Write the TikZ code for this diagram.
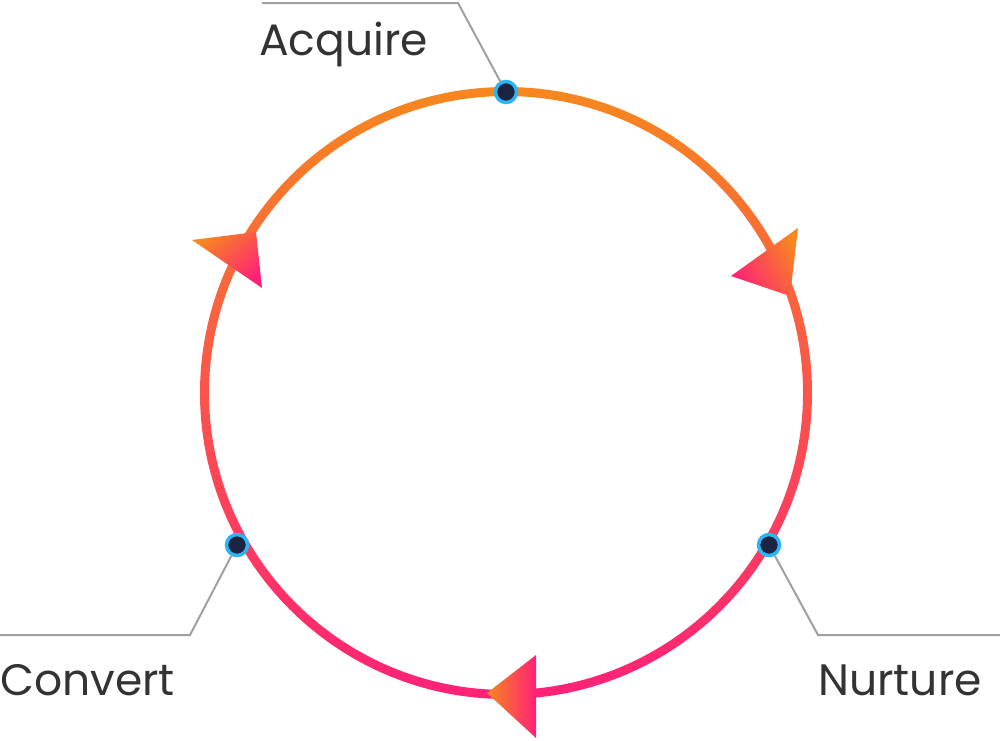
\documentclass[tikz,border=0pt]{standalone}
\usepackage{fontspec}
\setmainfont{Poppins}
\definecolor{ringtop}{HTML}{F7871E}
\definecolor{ringbot}{HTML}{FF2178}
\definecolor{dotfill}{HTML}{1C2441}
\definecolor{dotrim}{HTML}{2BB5F2}
\definecolor{leader}{HTML}{A0A0A0}
\definecolor{labeltext}{HTML}{333333}
\begin{document}
\begin{tikzpicture}[x=1pt,y=-1pt]
      \tikzstyle{stage} = [circle, draw=dotrim, fill=dotfill, line width=3.5pt, inner sep=0pt, minimum size=21pt]
      \tikzstyle{lead} = [draw=leader, line width=2pt]
      \tikzstyle{caption} = [font=\fontsize{44}{48}\selectfont, text=labeltext, inner sep=0pt]
      \useasboundingbox (0,0) rectangle (1000,740);
      \coordinate (c) at (506,393);
      % ring
      \shade[top color=ringtop, bottom color=ringbot, even odd rule] (c) circle (306) circle (297);
      % arrow heads
      \shade[left color=ringbot, right color=ringtop, shading angle=120] (731,276) -- (798,228) -- (790,296) -- cycle;
      \shade[left color=ringtop, right color=ringbot, shading angle=40] (192,240) -- (256,232) -- (262,288) -- cycle;
      \shade[left color=ringtop, right color=ringbot, shading angle=90] (487,693) -- (536,655) -- (536,738) -- cycle;
      % stages
      \node[stage] (acq) at (506,92) {};
      \node[stage] (nur) at (769,545) {};
      \node[stage] (con) at (237,545) {};
      \coordinate (acqbend) at (458,3);
      \coordinate (acqend) at (262,3);
      \coordinate (nurbend) at (818,635);
      \coordinate (nurend) at (1000,635);
      \coordinate (conbend) at (190,635);
      \coordinate (conend) at (0,635);
      \draw[lead] (acq) -- (acqbend) -- (acqend);
      \draw[lead] (nur) -- (nurbend) -- (nurend);
      \draw[lead] (con) -- (conbend) -- (conend);
      \node[caption, anchor=west] (acqlabel) at (259,44) {Acquire};
      \node[caption, anchor=east] (nurlabel) at (982,680) {Nurture};
      \node[caption, anchor=west] (conlabel) at (0,680) {Convert};
\end{tikzpicture}
\end{document}
